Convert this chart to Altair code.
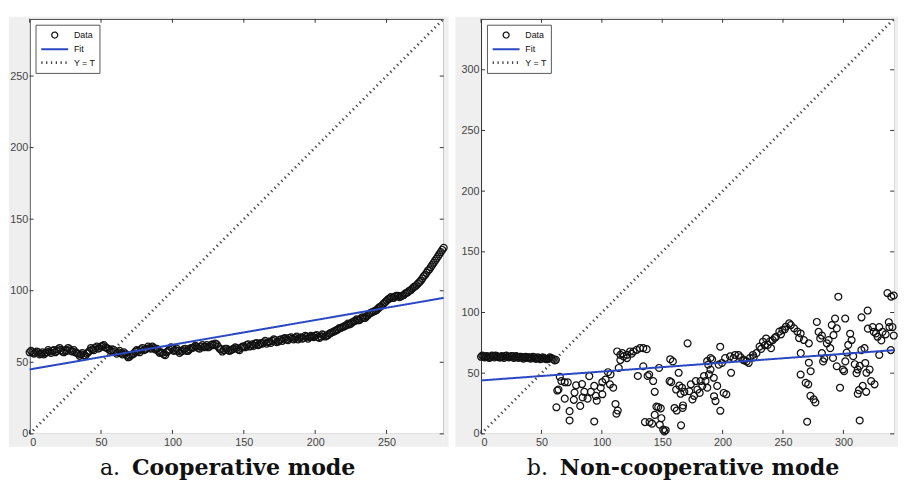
import altair as alt
import pandas as pd

SERIES = ["Data", "Fit", "Y = T"]
COLORS = ["#111111", "#2a48c2", "#4a4a4a"]
CIRCLE = "M-0.53,0A0.53,0.53 0 1,0 0.53,0A0.53,0.53 0 1,0 -0.53,0Z"
HLINE = "M-2.4,0H2.4"
SHAPES = [CIRCLE, HLINE, HLINE]
DASHES = [[1, 0], [1, 0], [1.3, 3.6]]
WIDTHS = [1.25, 2.8, 1.1]

# ---------- panel a : cooperative mode ----------
a_x_even = list(range(0, 292, 2))
a_y_even = [57, 57, 56.5, 57, 56, 55.5,
            57, 57.5, 58, 57, 59,
            58.5, 57, 58, 59, 57.5,
            57, 56, 55.5, 55, 56,
            58, 59, 60, 59.5, 61,
            62, 60, 58.5, 59, 57.5,
            57, 56.5, 57, 55, 54,
            55.5, 57.5, 58, 59, 58.5,
            59.5, 60, 61, 59, 58,
            57, 55.5, 57, 59, 59.5,
            58.5, 58, 57.5, 59, 58,
            59, 60, 61.5, 60, 61,
            60.5, 62, 61, 62.5, 63,
            61, 59, 58.5, 59.5, 58,
            59, 60.5, 59, 60, 61,
            62, 61, 62.5, 63, 62,
            63.5, 64, 63, 64.5, 65,
            65.5, 64.5, 66, 66.5, 66,
            67, 66.5, 67, 66, 67.5,
            67, 68, 67.5, 68, 68.5,
            67.5, 68, 69, 68.5, 70,
            71, 72, 73, 74, 75,
            76, 76.5, 78, 79, 79.5,
            80.5, 81, 82, 84, 85,
            86, 87.5, 89, 91, 93,
            94.5, 95, 96, 96.5, 96,
            97, 98.5, 100, 101.5, 103,
            105, 107, 110, 112.5, 115,
            118, 121, 124, 127, 130]
a_x_odd = list(range(1, 290, 2))
a_y_odd = [58, 56, 57.5, 55.5, 57,
           56.5, 58.5, 56.5, 58.5, 58,
           60, 57.5, 58.5, 60, 58,
           58.5, 56.5, 54.5, 56.5, 54.5,
           57, 60, 58.5, 61, 60,
           61.5, 60.5, 59.5, 58, 58.5,
           56, 58, 55.5, 56, 53.5,
           55, 56, 58.5, 57, 60,
           59, 61, 59.5, 60, 59.5,
           56.5, 56.5, 55, 58, 60.5,
           58, 59.5, 56.5, 58, 59.5,
           58, 60, 60.5, 61, 59.5,
           62, 61, 60.5, 62, 62,
           62.5, 59.5, 57.5, 59.5, 58.5,
           58.5, 59.5, 60, 58.5, 61,
           60.5, 62.5, 61.5, 61.5, 63.5,
           62.5, 63, 65, 64, 63.5,
           66, 64, 65.5, 65, 67,
           65.5, 67.5, 66, 68, 67,
           66.5, 68.5, 66.5, 68.5, 67.5,
           69, 67, 69.5, 68, 69,
           70.5, 71.5, 72.5, 74, 74.5,
           75.5, 77, 77, 78.5, 80,
           79.5, 81.5, 81, 83, 84.5,
           85.5, 86.5, 88.5, 90, 92,
           94, 95.5, 95, 96.5, 95.5,
           96.5, 98, 99, 100.5, 102.5,
           104, 106, 108.5, 111, 114,
           116.5, 119.5, 122.5, 125.5, 128.5]
a_fit_x = [0, 290]
a_fit_y = [45, 95]
a_diag = [0, 290]
a_ticks = [0, 50, 100, 150, 200, 250]

# ---------- panel b : non-cooperative mode ----------
b_band_x = list(range(0, 64, 2))
b_band_y = [63.5, 64, 63.5, 63, 63.5, 64, 64.5, 63.5, 63, 63.5, 64, 63.5,
            63.5, 64, 63, 63.5, 63.5, 63, 63, 62.5, 63, 62.5, 63, 62,
            62.5, 62, 62.5, 61.5, 62, 62.5, 61.5, 61]
b_band_x_odd = list(range(1, 62, 2))
b_band_y_odd = [64.5, 63, 64, 62.5, 64.5, 63, 64, 63, 64, 62.5,
                64.5, 63, 64, 62.5, 64, 62.5, 63.5, 62, 63.5, 63,
                62, 63.5, 62, 63, 61.5, 63, 62, 61.5, 63, 62, 60.5]
b_sc_x = [65.2, 66.5, 62.4, 63.1, 64.1, 69.3, 71.8, 69.3, 73.3, 73.3, 76.8, 78.7,
          77.4, 82.1, 83.6, 84.1, 85.5, 89.6, 90.9, 88.2, 93.7, 95, 93.7, 95.8,
          99.1, 100.4, 100.4, 103.1, 105.1, 107.2, 106.7, 109.4, 111.3, 113.2, 112.1, 114,
          112.7, 115.3, 118, 120.8, 123.4, 126.2, 128.9, 131.6, 134.3, 137.1, 115.3, 120.8,
          117, 124.7,
          129.8, 134.3, 135.7, 139.5, 141.6, 137.9, 139.2, 142.5, 143.8, 145.2, 143.8, 147.4,
          149.3, 148, 150.8, 151.8, 152.9, 146.7, 148.8, 156.6, 156.1, 157.4, 158.8, 160.2,
          162, 165.6, 161.5, 163.6, 166.4, 166.9, 168.3, 171, 172.4, 173.7, 175, 176.4,
          177.8, 179.1, 181, 181.8, 183.2, 184.6, 185.9, 187.3, 188.7, 190, 188.1, 191.3,
          192.7, 194.1, 195.5, 196.8, 198, 198.1, 199.5, 200.9, 202.1, 203.1, 206.2, 207,
          209, 187.2, 190, 192.9, 164.2, 165.2, 167.2,
          210.3, 213.1, 215, 217.1, 219.9, 222.6, 225.1, 228, 230.6, 233.4, 236, 237.4,
          240.1, 241.5, 244.2, 247, 249.6, 252.4, 255.1, 256.5, 259.2, 261.9, 264.6, 267.3,
          271.4, 263.3, 218, 221.6, 225.7, 231.9, 235, 239.1, 243.2, 248.3, 251.4,
          264.7, 264.6, 268.8, 270.9, 272.7, 275.4, 276.8, 270, 271.4, 272.9, 278, 279.5,
          280.8, 282.2, 282.2, 283.2, 284.2, 286.3, 287.8, 289.1, 290.4, 291.8, 293.1, 294.5,
          291.4, 294.5, 295.8, 297.2, 299.6, 300.6, 301.6, 301.5, 302.7, 304, 305.6, 306.8,
          308.1, 309.4, 310.9, 311.9, 311.9, 312.9, 313.5, 314.9, 315, 316, 317.5, 318.9,
          313.5, 318.1, 319.1, 320.1, 320.3, 321.7, 323, 325.8, 324.2, 325.2, 327, 328.3,
          329.7, 329.7, 331.4, 332.4, 335, 336.5, 337.6, 338.1, 339.3, 339.6, 340.6, 341.7,
          341.7]
b_sc_y = [47, 43.5, 21.9, 35.7, 36.5, 42.5, 42.5, 29, 18.7, 11, 28, 40,
          34, 23, 41, 30, 34.6, 47.5, 34.6, 29, 39.5, 31.3, 10.2, 27.3,
          38, 42.6, 32.6, 44.8, 50.8, 49, 40.8, 38, 24.6, 19.2, 16.6, 54.3,
          67.9, 65.1, 63.8, 65.1, 67.9, 67.9, 69.2, 70.6, 70.6, 69.8, 60.8, 62.4,
          66.5, 66,
          47.7, 55.7, 9.7, 9.7, 8.4, 47.7, 48.9, 43.5, 34.6, 22.4, 15.6, 54.3,
          12.9, 7.5, 3.5, 2, 3, 22, 21, 61.5, 43.5, 42.6, 59.7, 21.3,
          19.2, 7, 36.5, 50.3, 38, 21.3, 34.6, 74.6, 35.1, 40.8, 28.4, 31.3,
          43.5, 36.5, 33.7, 43.5, 39.5, 47.7, 43.5, 38, 49, 53, 57, 61.3,
          46.2, 27, 39.5, 57, 71.8, 19, 58.4, 33.7, 62.4, 32.6, 63.8, 50.3,
          62.4, 59.9, 62.5, 31, 39.7, 33, 23.4,
          65, 65, 63, 61, 59.7, 62.5, 65, 66.5, 71.9, 75.9, 78.6, 73.3,
          70.6, 77.3, 80, 84.3, 85.6, 88.3, 91, 89.6, 87, 84.3, 82.7, 77.3,
          74.6, 78.9, 60.5, 58.5, 63, 70, 73, 76, 79, 82, 86,
          66.5, 48.9, 42, 40.8, 31.3, 28.4, 25.9, 10, 58.6, 51.6, 92.2, 84,
          78.6, 81, 66.5, 59.7, 62, 74.6, 77.3, 70.6, 89.6, 81.3, 95, 86.9,
          62.5, 55.7, 113, 38, 53, 51.6, 59.7, 95, 67, 73.3, 82.5, 77.3,
          64, 57.4, 50, 53, 33, 36, 56, 69, 96, 39.5, 70.6, 34.6,
          11, 58.4, 50.3, 101.6, 86.7, 53, 43.5, 40.8, 88, 84, 82.7, 80,
          88, 65, 77, 84, 82, 116, 92, 88, 69, 113, 88, 114,
          81]
b_fit_x = [0, 342]
b_fit_y = [44, 69]
b_diag = [0, 342]
b_ticks = [0, 50, 100, 150, 200, 250, 300]

GRAY = "#efefef"
AXIS_FONT = "Liberation Sans"
CAP_FONT = "DejaVu Serif"
CAP_SIZE = 22.5
ONE = pd.DataFrame({"k": [0]})


def rect(x1, x2, y1, y2):
    return alt.Chart(ONE).mark_rect(color=GRAY).encode(
        x=alt.value(x1), x2=alt.value(x2), y=alt.value(y1), y2=alt.value(y2))


def text(t, x, y, align, bold):
    return alt.Chart(ONE).mark_text(
        text=t, align=align, baseline="alphabetic", font=CAP_FONT, fontSize=CAP_SIZE,
        fontWeight="bold" if bold else "normal", color="#111111"
    ).encode(x=alt.value(x), y=alt.value(y))


def panel(px, py, fx, fy, diag, dom, ticks, W, H, lab_w, right_w, letter, title, cx):
    pts = pd.DataFrame({"x": px, "y": py, "series": ["Data"] * len(px)})
    lines = pd.DataFrame({"x": fx + diag, "y": fy + diag,
                          "series": ["Fit", "Fit", "Y = T", "Y = T"]})
    tk = pd.DataFrame({"t": ticks})
    xs = alt.Scale(domain=[0, dom], nice=False, zero=False)
    ys = alt.Scale(domain=[0, dom], nice=False, zero=False)
    xax = alt.Axis(title=None, values=ticks, ticks=False, domain=False, grid=False,
                   labelFont=AXIS_FONT, labelFontSize=11, labelColor="#444444",
                   labelPadding=3, zindex=2)
    yax = alt.Axis(title=None, values=ticks, ticks=False, domain=False, grid=False,
                   labelFont=AXIS_FONT, labelFontSize=11, labelColor="#444444",
                   labelPadding=2, zindex=2)
    leg = alt.Legend(title=None, orient="top-left", offset=6, padding=4,
                     strokeColor="#555555", fillColor="white",
                     labelFont=AXIS_FONT, labelFontSize=9, labelColor="#111111",
                     symbolSize=130, symbolOffset=8, labelOffset=12, rowPadding=1)
    color = alt.Color("series:N", scale=alt.Scale(domain=SERIES, range=COLORS), legend=leg)
    shape = alt.Shape("series:N", scale=alt.Scale(domain=SERIES, range=SHAPES), legend=leg)
    dash = alt.StrokeDash("series:N", scale=alt.Scale(domain=SERIES, range=DASHES), legend=leg)
    sw = alt.StrokeWidth("series:N", scale=alt.Scale(domain=SERIES, range=WIDTHS), legend=leg)

    bg = [rect(-lab_w, 0, -2, H + 13), rect(W, W + right_w, -2, H + 13),
          rect(0, W, -2, 0), rect(0, W, H, H + 13)]

    points = alt.Chart(pts).mark_point(filled=False, size=175, opacity=1).encode(
        x=alt.X("x:Q", scale=xs, axis=xax),
        y=alt.Y("y:Q", scale=ys, axis=yax),
        color=color, shape=shape, strokeWidth=sw)
    lns = alt.Chart(lines).mark_line().encode(
        x=alt.X("x:Q", scale=xs, axis=xax),
        y=alt.Y("y:Q", scale=ys, axis=yax),
        color=color, strokeDash=dash, strokeWidth=sw, detail="series:N")

    tl = alt.Chart(tk).mark_rule(color="#333333").encode(
        y=alt.Y("t:Q", scale=ys, axis=yax), x=alt.value(0), x2=alt.value(4))
    tr = alt.Chart(tk).mark_rule(color="#333333").encode(
        y=alt.Y("t:Q", scale=ys, axis=yax), x=alt.value(W - 4), x2=alt.value(W))
    tb = alt.Chart(tk).mark_rule(color="#333333").encode(
        x=alt.X("t:Q", scale=xs, axis=xax), y=alt.value(H - 4), y2=alt.value(H))
    tt = alt.Chart(tk).mark_rule(color="#333333").encode(
        x=alt.X("t:Q", scale=xs, axis=xax), y=alt.value(0), y2=alt.value(4))

    caps = [text(letter, cx, H + 42, "right", False),
            text(title, cx + 12, H + 42, "left", True)]

    return alt.layer(*bg, points, lns, tl, tr, tb, tt, *caps).properties(
        width=W, height=H)


H = 422
left = panel(a_x_even + a_x_odd, a_y_even + a_y_odd, a_fit_x, a_fit_y, a_diag, 290,
             a_ticks, 421, H, 21, 5, "a.", "Cooperative mode", 92)
right = panel(b_band_x + b_band_x_odd + b_sc_x, b_band_y + b_band_y_odd + b_sc_y,
              b_fit_x, b_fit_y, b_diag, 342, b_ticks, 420, H, 26, 4,
              "b.", "Non-cooperative mode", 68)

chart = alt.hconcat(left, right, spacing=4).resolve_scale(
    x="independent", y="independent", color="independent", shape="independent",
    strokeDash="independent", strokeWidth="independent"
).resolve_legend(
    color="independent", shape="independent", strokeDash="independent",
    strokeWidth="independent"
).properties(padding=0, background="white").configure_view(
    stroke="#262626", strokeWidth=1, fill="white")

chart.save("out.html", embed_options={"renderer": "svg", "actions": False})
